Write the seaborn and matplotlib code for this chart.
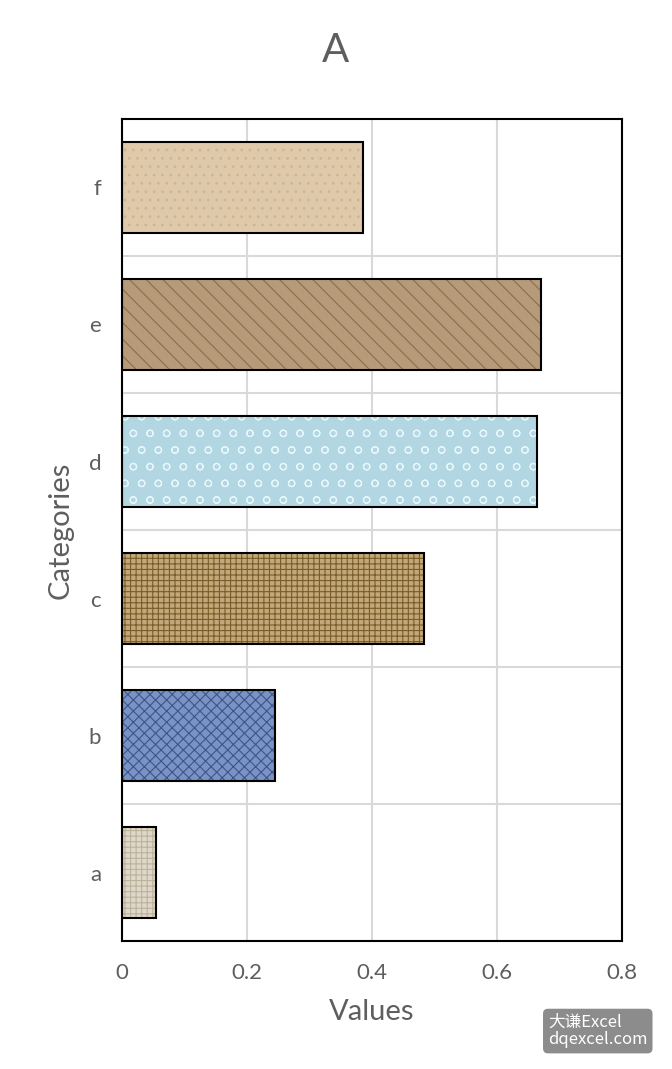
import matplotlib
matplotlib.use("Agg")
import matplotlib.pyplot as plt
import seaborn as sns
import pandas as pd

# data (top to bottom)
categories = ["f", "e", "d", "c", "b", "a"]
values = [0.386, 0.671, 0.664, 0.483, 0.245, 0.054]
x_ticks = [0, 0.2, 0.4, 0.6, 0.8]
x_tick_labels = ["0", "0.2", "0.4", "0.6", "0.8"]

# texture stand-ins: fill colour, hatch colour, hatch pattern
fill_colors = ["#E6CBA3", "#BF9C70", "#AADCEA", "#CDAB6E", "#6F8FCF", "#E2DAC6"]
hatch_colors = ["#D6B48A", "#8E6C46", "#E6F7FB", "#7A5C28", "#3A5590", "#BDB29A"]
hatches = ["..", "\\\\", "o", "+++", "xxx", "+++"]

df = pd.DataFrame({"Categories": categories, "Values": values})

sns.set_style("white")
plt.rcParams["font.family"] = ["Lato", "Noto Sans CJK SC", "DejaVu Sans"]
plt.rcParams["hatch.linewidth"] = 0.8
text_color = "#5E5E5E"

fig = plt.figure(figsize=(6.72, 10.69), dpi=100)
ax = fig.add_axes([0.1815, 0.1197, 0.7441, 0.769])

# textured fill
sns.barplot(data=df, y="Categories", x="Values", hue="Categories",
            palette=fill_colors, order=categories, hue_order=categories,
            orient="h", width=0.66, legend=False, linewidth=0, ax=ax)
for patch, hc, h in zip(ax.patches, hatch_colors, hatches):
    patch.set_edgecolor(hc)
    patch.set_hatch(h)
    patch.set_linewidth(0)

# black outline
sns.barplot(data=df, y="Categories", x="Values", order=categories,
            orient="h", width=0.66, fill=False, color="black",
            linewidth=1.5, ax=ax)
for patch in ax.patches[len(categories):]:
    patch.set_edgecolor("black")
    patch.set_linewidth(1.5)

ax.set_xlim(0, 0.8)
ax.set_ylim(5.5, -0.5)
ax.set_xticks(x_ticks)
ax.set_xticklabels(x_tick_labels)
ax.set_yticks(range(len(categories)), minor=False)
ax.set_yticks([i + 0.5 for i in range(len(categories) - 1)], minor=True)
ax.grid(axis="x", which="major", color="#D9D9D9", linewidth=1.5)
ax.grid(axis="y", which="minor", color="#D9D9D9", linewidth=1.5)
ax.set_axisbelow(True)
ax.tick_params(axis="both", which="both", length=0, labelsize=16,
               labelcolor=text_color)
ax.tick_params(axis="x", pad=16)
ax.tick_params(axis="y", pad=15)

for sp in ax.spines.values():
    sp.set_visible(True)
    sp.set_color("black")
    sp.set_linewidth(1.5)

ax.set_xlabel("Values", fontsize=21, color=text_color, labelpad=11)
ax.set_ylabel("Categories", fontsize=21, color=text_color, labelpad=11)
fig.text(0.5, 0.953, "A", ha="center", va="center", fontsize=29,
         color=text_color)

# watermark
fig.text(0.8155, 0.0355, "大谦Excel\ndqexcel.com", ha="left", va="center",
         fontsize=12, color="white", linespacing=1.05,
         family=["Noto Sans CJK SC", "DejaVu Sans"],
         bbox=dict(boxstyle="round,pad=0.3", facecolor="#8C8C8C",
                   edgecolor="none"))

fig.savefig("out.png", dpi=100)
